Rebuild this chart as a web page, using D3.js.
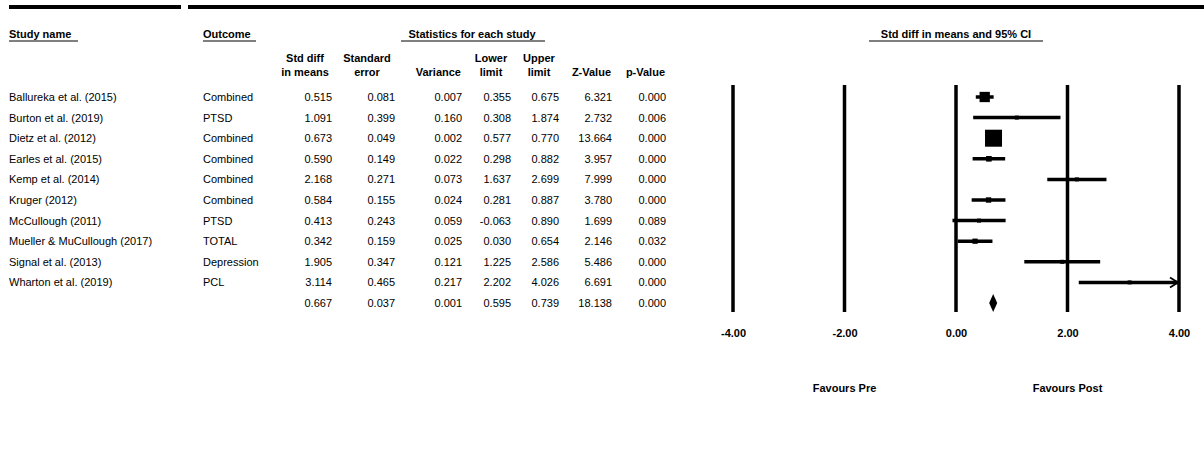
<!DOCTYPE html>
<html>
<head>
<meta charset="utf-8">
<script src="https://cdn.jsdelivr.net/npm/d3@7"></script>
<style>
  html, body { margin: 0; padding: 0; background: #fff; }
  svg text { font-family: "Liberation Sans", Arial, sans-serif; fill: #000; }
</style>
</head>
<body>
<svg id="chart" width="1204" height="451"></svg>
<script>
// Study rows of the forest plot
const studies = [
  "Ballureka et al. (2015)", "Burton et al. (2019)", "Dietz et al. (2012)",
  "Earles et al. (2015)", "Kemp et al. (2014)", "Kruger (2012)",
  "McCullough (2011)", "Mueller & MuCullough (2017)", "Signal et al. (2013)",
  "Wharton et al. (2019)"
];
const outcomes = ["Combined", "PTSD", "Combined", "Combined", "Combined",
  "Combined", "PTSD", "TOTAL", "Depression", "PCL"];
const stdDiff  = [0.515, 1.091, 0.673, 0.590, 2.168, 0.584, 0.413, 0.342, 1.905, 3.114];
const stdErr   = [0.081, 0.399, 0.049, 0.149, 0.271, 0.155, 0.243, 0.159, 0.347, 0.465];
const variance = [0.007, 0.160, 0.002, 0.022, 0.073, 0.024, 0.059, 0.025, 0.121, 0.217];
const lower    = [0.355, 0.308, 0.577, 0.298, 1.637, 0.281, -0.063, 0.030, 1.225, 2.202];
const upper    = [0.675, 1.874, 0.770, 0.882, 2.699, 0.887, 0.890, 0.654, 2.586, 4.026];
const zValue   = [6.321, 2.732, 13.664, 3.957, 7.999, 3.780, 1.699, 2.146, 5.486, 6.691];
const pValue   = [0.000, 0.006, 0.000, 0.000, 0.000, 0.000, 0.089, 0.032, 0.000, 0.000];

// Pooled estimate
const pooled = { stdDiff: 0.667, stdErr: 0.037, variance: 0.001, lower: 0.595,
                 upper: 0.739, zValue: 18.138, pValue: 0.000 };

const axisTicks = [-4, -2, 0, 2, 4];
const favourLabels = ["Favours Pre", "Favours Post"];

const svg = d3.select("#chart");
const nRows = studies.length + 1;

// Plain hyphen-minus for negative numbers
const locale = d3.formatLocale({ decimal: ".", thousands: ",", grouping: [3], currency: ["", ""], minus: "-" });
const fmt3 = locale.format(".3f");
const fmt2 = locale.format(".2f");

const x = d3.scaleLinear().domain([-4, 4]).range([733, 1179]);
const y = d3.scaleLinear().domain([0, nRows - 1]).range([97, 303]);
const plotTop = 85, plotBottom = 312;

// Header rules
svg.append("rect").attr("x", 9).attr("y", 5).attr("width", 172).attr("height", 4).attr("fill", "#000");
svg.append("rect").attr("x", 188).attr("y", 5).attr("width", 1016).attr("height", 4).attr("fill", "#000");

// Group headers with underlines
function underlinedHeader(text, cx, anchor, x0, x1) {
  svg.append("text").attr("x", cx).attr("y", 38).attr("text-anchor", anchor)
    .attr("font-size", 11).attr("font-weight", "bold").text(text);
  svg.append("line").attr("x1", x0).attr("x2", x1).attr("y1", 41).attr("y2", 41)
    .attr("stroke", "#000").attr("stroke-width", 1);
}
underlinedHeader("Study name", 9, "start", 9, 78);
underlinedHeader("Outcome", 203, "start", 203, 256);
underlinedHeader("Statistics for each study", 472, "middle", 401, 545);
underlinedHeader("Std diff in means and 95% CI", 956, "middle", 869, 1043);

// Column definitions for the statistics table
const columns = [
  { head: ["Std diff", "in means"], hx: 305, anchor: "middle", right: 332, values: stdDiff, key: "stdDiff" },
  { head: ["Standard", "error"], hx: 367, anchor: "middle", right: 395, values: stdErr, key: "stdErr" },
  { head: ["", "Variance"], hx: 461, anchor: "end", right: 462, values: variance, key: "variance" },
  { head: ["Lower", "limit"], hx: 491, anchor: "middle", right: 511, values: lower, key: "lower" },
  { head: ["Upper", "limit"], hx: 539, anchor: "middle", right: 559, values: upper, key: "upper" },
  { head: ["", "Z-Value"], hx: 611, anchor: "end", right: 612, values: zValue, key: "zValue" },
  { head: ["", "p-Value"], hx: 665, anchor: "end", right: 666, values: pValue, key: "pValue" }
];

const textOff = 4;

columns.forEach(col => {
  col.head.forEach((h, i) => {
    if (!h) return;
    svg.append("text").attr("x", col.hx).attr("y", 62 + i * 14).attr("text-anchor", col.anchor)
      .attr("font-size", 11).attr("font-weight", "bold").text(h);
  });
  const vals = col.values.concat([pooled[col.key]]);
  svg.append("g").selectAll("text").data(vals).join("text")
    .attr("x", col.right).attr("y", (d, i) => y(i) + textOff)
    .attr("text-anchor", "end").attr("font-size", 11).text(d => fmt3(d));
});

svg.append("g").selectAll("text").data(studies).join("text")
  .attr("x", 9).attr("y", (d, i) => y(i) + textOff).attr("font-size", 11).text(d => d);
svg.append("g").selectAll("text").data(outcomes).join("text")
  .attr("x", 203).attr("y", (d, i) => y(i) + textOff).attr("font-size", 11).text(d => d);

// Reference lines at each tick
svg.append("g").selectAll("line").data(axisTicks).join("line")
  .attr("x1", d => x(d)).attr("x2", d => x(d))
  .attr("y1", plotTop).attr("y2", plotBottom)
  .attr("stroke", "#000").attr("stroke-width", 3.5);

// Tick labels
const axis = d3.axisBottom(x).tickValues(axisTicks).tickFormat(fmt2).tickSize(0).tickPadding(0);
const axG = svg.append("g").attr("transform", "translate(0,329)").call(axis);
axG.select(".domain").remove();
axG.selectAll("text").attr("font-size", 11).attr("font-weight", "bold")
  .attr("font-family", "Liberation Sans, Arial, sans-serif").attr("fill", "#000");

// Confidence intervals (clipped to the axis range, with an arrow when truncated)
const rows = studies.map((s, i) => ({
  i, est: stdDiff[i], lo: lower[i], hi: upper[i], w: 1 / (stdErr[i] * stdErr[i])
}));
const wMax = d3.max(rows, r => r.w);
const box = d3.scaleSqrt().domain([0, wMax]).range([0, 17]);

const ciG = svg.append("g");
rows.forEach(r => {
  const lo = Math.max(r.lo, -4), hi = Math.min(r.hi, 4);
  ciG.append("line").attr("x1", x(lo)).attr("x2", x(hi))
    .attr("y1", y(r.i)).attr("y2", y(r.i))
    .attr("stroke", "#000").attr("stroke-width", 3.5);
  if (r.hi > 4) {
    const tx = x(4) - 1, ty = y(r.i);
    ciG.append("path").attr("d", `M${tx - 8},${ty - 5}L${tx},${ty}L${tx - 8},${ty + 5}`)
      .attr("fill", "none").attr("stroke", "#000").attr("stroke-width", 1.8);
  }
});

// Weight boxes
svg.append("g").selectAll("rect").data(rows).join("rect")
  .attr("x", r => x(r.est) - Math.max(4, box(r.w)) / 2)
  .attr("y", r => y(r.i) - Math.max(4, box(r.w)) / 2)
  .attr("width", r => Math.max(4, box(r.w)))
  .attr("height", r => Math.max(4, box(r.w)))
  .attr("fill", "#000");

// Pooled diamond
const py = y(nRows - 1);
svg.append("path")
  .attr("d", `M${x(pooled.lower)},${py}L${x(pooled.stdDiff)},${py - 9}L${x(pooled.upper)},${py}L${x(pooled.stdDiff)},${py + 9}Z`)
  .attr("fill", "#000");

// Direction labels
svg.append("g").selectAll("text").data(favourLabels).join("text")
  .attr("x", (d, i) => x(i === 0 ? -2 : 2)).attr("y", 392)
  .attr("text-anchor", "middle").attr("font-size", 11).attr("font-weight", "bold")
  .text(d => d);
</script>
</body>
</html>
